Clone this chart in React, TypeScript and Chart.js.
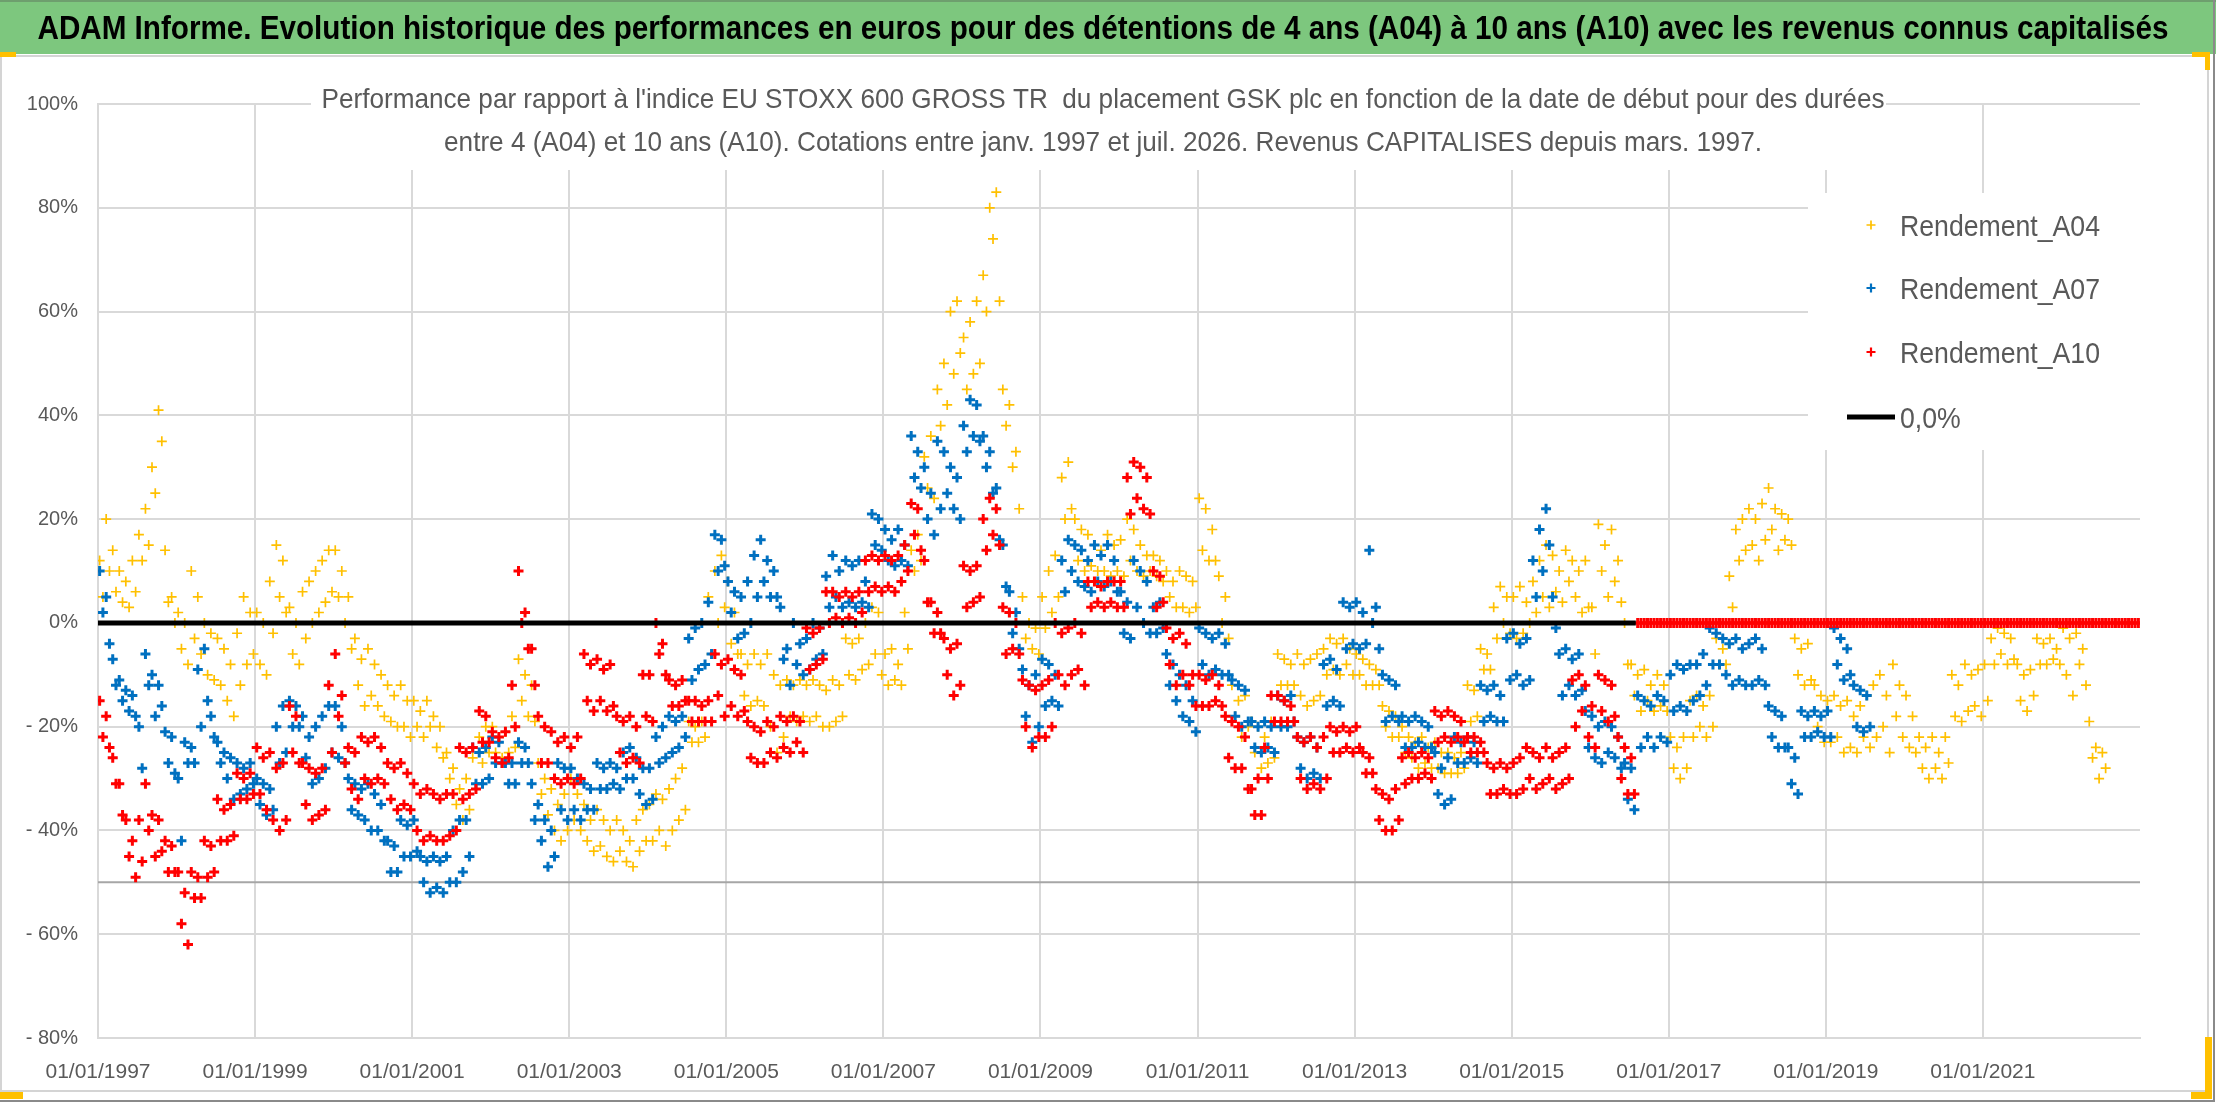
import React, { useEffect, useRef } from "react";
import { Chart, registerables } from "chart.js";

Chart.register(...registerables);

const CANVAS_W = 2216;
const CANVAS_H = 1102;

const titleText =
  "ADAM Informe. Evolution historique des performances en euros pour des détentions de 4 ans (A04) à 10 ans (A10) avec les revenus connus capitalisés";
const subtitleLines = [
  "Performance par rapport à l'indice EU STOXX 600 GROSS TR  du placement GSK plc en fonction de la date de début pour des durées",
  "entre 4 (A04) et 10 ans (A10). Cotations entre janv. 1997 et juil. 2026. Revenus CAPITALISES depuis mars. 1997.",
];

const seriesLabels = ["Rendement_A04", "Rendement_A07", "Rendement_A10"];
const seriesColors = ["#FFC000", "#0070C0", "#FF0000"];
const zeroLineLabel = "0,0%";

// x axis (start date, in years)
const axisStartYear = 1997;
const axisEndYear = 2023;
const tickStepYears = 2;
// first start date of every series and number of readings per year (two per month)
const firstDateYear = 1997;
const valuesPerYear = 24;
// y axis (%)
const yMin = -80;
const yMax = 100;
const yStep = 20;
// reference lines
const zeroLineEndYear = 2016.58;
const thresholdValue = -50;

// Rendement A04 (%), two readings per month from janv. 1997
const rendementA04 = [
  12, 5, 20, 10, 14, 6, 10, 4, 8, 3, 12, 6, 17, 12, 22, 15, 30, 25, 41, 35, 14, 4, 5, 0,
  2, -5, 0, -8, 10, -3, 5, -6, 0, -10, -2, -11, -3, -12, -5, -15, -8, -18, -2, -12, 5, -8, 2, -6,
  2, -8, 0, -10, 8, -2, 15, 5, 12, 2, 3, -6, 0, -8, 6, -3, 8, 0, 10, 2, 12, 4, 14, 6,
  14, 5, 10, 0, 5, -5, -3, -12, -7, -16, -5, -14, -8, -16, -10, -18, -12, -19, -14, -20, -12, -20, -15, -22,
  -15, -20, -17, -22, -15, -20, -18, -24, -20, -26, -25, -30, -28, -35, -32, -38, -30, -36, -26, -32, -22, -27, -20, -25,
  -20, -25, -22, -26, -21, -25, -18, -24, -7, -15, -10, -18, -12, -19, -27, -33, -30, -37, -32, -40, -35, -42, -33, -40,
  -30, -38, -33, -40, -35, -42, -38, -44, -36, -43, -38, -45, -40, -46, -38, -44, -40, -46, -42, -47, -38, -44, -36, -42,
  -35, -42, -33, -40, -34, -43, -32, -40, -30, -38, -28, -36, -19, -23, -20, -23, -19, -22, 5, -6, 10, 0, 13, 3,
  8, -4, 2, -6, -6, -14, -8, -16, -6, -15, -8, -16, -6, -20, -10, -25, -12, -22, -11, -18, -12, -19, -11, -18,
  -12, -19, -11, -18, -12, -20, -13, -20, -11, -19, -12, -18, -3, -10, -4, -11, -3, -9, 0, -8, 3, -6, 2, -10,
  -6, -12, -5, -11, -8, -12, 2, -5, 14, 10, 17, 12, 32, 26, 36, 24, 45, 38, 50, 42, 60, 48, 62, 52,
  55, 45, 58, 48, 62, 50, 67, 60, 80, 74, 83, 62, 45, 38, 42, 30, 33, 22, 5, -3, 0, -5, -1, -6,
  5, -1, 10, 2, 13, 5, 28, 20, 31, 22, 20, 12, 18, 10, 17, 11, 15, 10, 14, 10, 17, 9, 15, 10,
  16, 9, 20, 12, 18, 10, 15, 9, 13, 10, 13, 9, 12, 8, 10, 5, 8, 3, 10, 3, 9, 2, 8, 3,
  24, 14, 22, 12, 18, 12, 9, 0, 5, -3, -12, -18, -15, -22, -14, -20, -19, -25, -20, -28, -22, -27, -19, -26,
  -6, -12, -7, -12, -8, -12, -6, -14, -8, -16, -7, -15, -6, -14, -5, -10, -3, -9, -4, -10, -3, -8, -5, -10,
  -6, -10, -7, -12, -8, -12, -9, -12, -16, -20, -17, -22, -18, -22, -20, -25, -22, -26, -23, -28, -22, -27, -24, -28,
  -23, -28, -25, -29, -25, -29, -26, -29, -25, -28, -12, -19, -13, -18, -5, -9, -6, -9, 3, -3, 7, 0, 5, -2,
  5, -3, 7, -2, 4, 0, 8, 2, 12, 5, 15, 3, 13, 6, 10, 4, 14, 8, 12, 5, 10, 2, 12, 3,
  3, -6, 19, 10, 15, 5, 18, 8, 12, 4, 0, -8, -8, -14, -10, -17, -9, -15, -12, -17, -10, -16, -12, -17,
  -22, -28, -24, -30, -22, -28, -15, -22, -14, -20, -16, -22, -14, -20, -3, -8, -5, -8, 9, 3, 18, 12, 20, 14,
  22, 15, 20, 12, 23, 16, 26, 18, 22, 14, 21, 16, 20, 15, -3, -10, -5, -12, -4, -11, -12, -20, -14, -23,
  -15, -23, -14, -22, -16, -25, -15, -24, -18, -25, -16, -22, -14, -24, -12, -22, -10, -20, -14, -25, -8, -18, -12, -22,
  -14, -24, -18, -25, -22, -28, -24, -30, -22, -28, -25, -30, -22, -27, -10, -18, -12, -19, -8, -17, -10, -16, -9, -18,
  -8, -15, -3, -8, -1, -6, -2, -8, -3, -7, -8, -15, -10, -17, -9, -14, -3, -8, -4, -8, -3, -7, -5, -8,
  -1, -10, -3, -14, -2, -8, -5, -12, -19, -26, -24, -30, -25, -28,
];

// Rendement A07 (%), two readings per month from janv. 1997
const rendementA07 = [
  10, 2, 5, -4, -7, -12, -11, -15, -13, -17, -14, -18, -20, -28, -6, -12, -10, -18, -12, -16, -21, -27, -22, -29,
  -30, -42, -23, -27, -24, -27, -9, -20, -5, -15, -18, -22, -23, -27, -25, -30, -26, -34, -27, -33, -28, -32, -27, -31,
  -30, -35, -31, -37, -32, -36, -20, -27, -16, -25, -15, -20, -16, -20, -18, -26, -22, -31, -20, -30, -18, -28, -16, -25,
  -16, -26, -20, -27, -30, -36, -31, -37, -32, -38, -31, -40, -33, -40, -35, -42, -42, -48, -43, -48, -38, -45, -39, -45,
  -38, -44, -45, -50, -46, -52, -45, -51, -46, -52, -45, -50, -40, -50, -38, -48, -38, -45, -24, -31, -25, -31, -24, -30,
  -22, -27, -23, -27, -27, -31, -27, -31, -23, -27, -24, -27, -31, -38, -35, -42, -38, -47, -40, -45, -27, -36, -28, -38,
  -28, -36, -30, -38, -31, -36, -32, -36, -27, -32, -28, -32, -27, -31, -28, -32, -25, -30, -24, -30, -26, -33, -28, -35,
  -28, -34, -22, -27, -20, -26, -18, -25, -19, -24, -18, -22, -3, -11, -1, -9, 0, -8, 4, -6, 17, 10, 16, 11,
  8, 2, 6, -3, 5, -2, 8, 0, 13, 5, 16, 8, 12, 5, 10, 5, 3, -7, -5, -12, 0, -8, -4, -10,
  -3, -9, 0, -7, -1, -6, 9, 3, 13, 5, 10, 3, 12, 4, 11, 3, 12, 4, 8, 3, 21, 15, 20, 14,
  18, 12, 16, 11, 18, 12, 15, 11, 36, 28, 33, 26, 30, 20, 25, 17, 35, 22, 33, 25, 30, 22, 28, 20,
  38, 33, 43, 36, 42, 35, 36, 30, 33, 25, 26, 16, 15, 7, 6, -2, 2, -5, -9, -18, -12, -23, -10, -20,
  -7, -16, -8, -15, -10, -16, 12, 6, 16, 10, 15, 8, 14, 7, 12, 6, 15, 8, 13, 7, 15, 8, 12, 6,
  6, -2, 4, -3, 12, 3, 10, 0, 8, -2, 3, -2, 4, -1, -6, -12, -8, -15, -10, -18, -12, -19, -15, -21,
  -1, -8, -2, -10, -3, -9, -2, -10, -4, -10, -11, -18, -12, -20, -13, -19, -19, -24, -20, -25, -19, -24, -20, -25,
  -14, -20, -15, -20, -14, -19, -22, -28, -23, -30, -22, -29, -24, -30, -8, -16, -7, -15, -9, -16, 4, -5, 3, -4,
  4, -5, 2, -4, 14, 0, 3, -5, -10, -19, -11, -18, -12, -19, -18, -24, -19, -24, -18, -23, -19, -24, -20, -24,
  -25, -33, -28, -35, -26, -34, -22, -27, -23, -27, -22, -26, -23, -27, -12, -19, -13, -18, -12, -19, -14, -19, -3, -11,
  -2, -10, -4, -12, -3, -11, 12, 5, 18, 10, 22, 15, 5, -1, -6, -14, -5, -12, -7, -14, -6, -13, -17, -24,
  -18, -26, -20, -27, -19, -25, -20, -26, -22, -28, -27, -34, -28, -36, -14, -24, -15, -22, -16, -24, -14, -22, -15, -23,
  -10, -17, -8, -16, -9, -17, -8, -15, -8, -14, -6, -12, -1, -8, -2, -8, -3, -10, -4, -12, -3, -11, -5, -12,
  -4, -12, -3, -11, -5, -12, -16, -22, -17, -24, -18, -24, -24, -31, -26, -33, -17, -22, -18, -22, -17, -21, -18, -22,
  -17, -22, -1, -8, -3, -11, -5, -10, -12, -20, -13, -21, -14, -20,
];

// Rendement A10 (%), two readings per month from janv. 1997 (0 once no 10-year period is complete)
const rendementA10 = [
  -15, -22, -18, -24, -26, -31, -31, -37, -38, -45, -42, -49, -38, -46, -31, -40, -37, -45, -38, -44, -42, -48, -43, -48,
  -48, -58, -52, -62, -48, -53, -49, -53, -42, -49, -43, -48, -34, -42, -36, -42, -35, -41, -29, -34, -30, -34, -29, -33,
  -24, -33, -26, -36, -25, -38, -28, -40, -27, -38, -16, -25, -18, -27, -27, -35, -28, -38, -29, -37, -28, -36, -12, -25,
  -6, -18, -14, -27, -24, -32, -25, -34, -22, -30, -23, -31, -22, -30, -24, -31, -27, -34, -28, -36, -27, -35, -29, -36,
  -31, -40, -33, -42, -32, -41, -33, -42, -34, -42, -33, -41, -33, -40, -24, -34, -25, -33, -24, -32, -17, -23, -18, -23,
  -21, -26, -22, -27, -21, -26, -12, -20, 10, 0, 2, -5, -5, -12, -18, -27, -20, -27, -21, -30, -23, -31, -22, -30,
  -24, -31, -22, -30, -6, -15, -8, -17, -7, -15, -9, -17, -8, -16, -18, -25, -19, -27, -18, -26, -20, -27, -10, -18,
  -10, -19, 0, -6, -4, -10, -11, -16, -12, -16, -11, -15, -15, -19, -15, -19, -16, -19, -15, -19, -6, -14, -8, -18,
  -7, -16, -9, -18, -10, -17, -19, -26, -20, -27, -21, -27, -19, -25, -20, -26, -18, -24, -19, -25, -18, -23, -19, -25,
  -1, -9, -2, -8, -1, -7, 6, 0, 6, 1, 5, 0, 6, 1, 5, 0, 6, 2, 12, 6, 13, 7, 12, 6,
  13, 7, 12, 6, 13, 8, 15, 10, 23, 17, 22, 14, 12, 4, 4, -2, 2, -2, -3, -10, -5, -14, -4, -12,
  11, 3, 10, 4, 11, 5, 20, 14, 24, 17, 22, 15, 3, -6, 2, -5, 0, -6, -11, -20, -12, -24, -13, -22,
  -12, -22, -11, -20, 0, -10, -2, -12, -1, -10, 0, -9, -2, -12, 8, 3, 8, 4, 7, 3, 8, 4, 8, 3,
  8, 3, 28, 21, 31, 24, 30, 22, 28, 21, 10, 3, 9, 4, -1, -8, -3, -12, -2, -10, -4, -12, -10, -16,
  -10, -16, -11, -16, -10, -15, -12, -16, -18, -26, -19, -28, -20, -28, -22, -32, -32, -37, -30, -37, -24, -30, -14, -19,
  -14, -19, -15, -19, -16, -19, -22, -30, -23, -32, -22, -31, -24, -32, -22, -30, -20, -25, -21, -25, -20, -24, -21, -25,
  -20, -24, -25, -29, -26, -29, -32, -38, -33, -40, -34, -40, -32, -38, -26, -31, -25, -30, -26, -30, -25, -29, -26, -30,
  -17, -23, -18, -22, -17, -23, -18, -22, -19, -23, -22, -25, -22, -25, -23, -25, -27, -33, -28, -33, -27, -32, -28, -33,
  -27, -33, -26, -32, -24, -30, -25, -32, -26, -31, -24, -30, -26, -32, -25, -31, -24, -30, -11, -20, -10, -17, -12, -22,
  -16, -24, -10, -17, -11, -19, -12, -18, -22, -30, -24, -33, -26, -33, 0, 0, 0, 0, 0, 0, 0, 0, 0, 0,
  0, 0, 0, 0, 0, 0, 0, 0, 0, 0, 0, 0, 0, 0, 0, 0, 0, 0, 0, 0, 0, 0, 0, 0,
  0, 0, 0, 0, 0, 0, 0, 0, 0, 0, 0, 0, 0, 0, 0, 0, 0, 0, 0, 0, 0, 0, 0, 0,
  0, 0, 0, 0, 0, 0, 0, 0, 0, 0, 0, 0, 0, 0, 0, 0, 0, 0, 0, 0, 0, 0, 0, 0,
  0, 0, 0, 0, 0, 0, 0, 0, 0, 0, 0, 0, 0, 0, 0, 0, 0, 0, 0, 0, 0, 0, 0, 0,
  0, 0, 0, 0, 0, 0, 0, 0, 0, 0, 0, 0, 0, 0, 0, 0, 0, 0, 0, 0, 0, 0, 0, 0,
  0, 0, 0, 0, 0, 0, 0, 0, 0, 0, 0, 0, 0, 0, 0, 0, 0, 0, 0, 0, 0, 0, 0, 0,
];

const toPoints = (values: number[]) =>
  values.map((v, i) => ({ x: firstDateYear + (i + 0.5) / valuesPerYear, y: v }));

const SANS = "'Liberation Sans', Arial, sans-serif";
const TEXT_GREY = "#595959";
const GRID_GREY = "#D9D9D9";

// draws text with a given font size, squeezed horizontally to a target width (condensed look)
function drawCondensed(
  ctx: CanvasRenderingContext2D,
  text: string,
  font: string,
  x: number,
  y: number,
  targetWidth: number,
  align: "left" | "center"
) {
  ctx.save();
  ctx.font = font;
  const w = ctx.measureText(text).width;
  const sx = targetWidth / w;
  ctx.textAlign = "left";
  ctx.textBaseline = "alphabetic";
  const left = align === "center" ? x - targetWidth / 2 : x;
  ctx.translate(left, y);
  ctx.scale(sx, 1);
  ctx.fillText(text, 0, 0);
  ctx.restore();
  return sx;
}

const decorPlugin = {
  id: "decor",
  beforeDraw(chart: any) {
    const ctx: CanvasRenderingContext2D = chart.ctx;
    ctx.save();
    ctx.fillStyle = "#FFFFFF";
    ctx.fillRect(0, 0, CANVAS_W, CANVAS_H);
    // green header band
    ctx.fillStyle = "#7DC77E";
    ctx.fillRect(0, 0, CANVAS_W, 54);
    ctx.strokeStyle = "#6E9F6E";
    ctx.lineWidth = 2;
    ctx.beginPath();
    ctx.moveTo(0, 1);
    ctx.lineTo(CANVAS_W, 1);
    ctx.stroke();
    // inner frame of the chart
    ctx.strokeStyle = "#D4D4D4";
    ctx.lineWidth = 2;
    ctx.strokeRect(1, 56, 2207, 1035);
    // outer border
    ctx.strokeStyle = "#8A8A8A";
    ctx.lineWidth = 2;
    ctx.beginPath();
    ctx.moveTo(CANVAS_W - 2, 0);
    ctx.lineTo(CANVAS_W - 2, CANVAS_H - 1);
    ctx.lineTo(0, CANVAS_H - 1);
    ctx.stroke();
    ctx.restore();
  },
  afterDraw(chart: any) {
    const ctx: CanvasRenderingContext2D = chart.ctx;
    ctx.save();
    // title in the green band
    ctx.fillStyle = "#000000";
    drawCondensed(ctx, titleText, `bold 33px ${SANS}`, 1103, 39, 2131, "center");

    // subtitle box
    ctx.fillStyle = "#FFFFFF";
    ctx.fillRect(311, 84, 1575, 86);
    ctx.fillStyle = TEXT_GREY;
    ctx.save();
    ctx.font = `normal 28px ${SANS}`;
    const w0 = ctx.measureText(subtitleLines[0]).width;
    const w1 = ctx.measureText(subtitleLines[1]).width;
    ctx.restore();
    const sx = 1563 / w0;
    drawCondensed(ctx, subtitleLines[0], `normal 28px ${SANS}`, 1103, 108, w0 * sx, "center");
    drawCondensed(ctx, subtitleLines[1], `normal 28px ${SANS}`, 1103, 151, w1 * sx, "center");

    // legend
    ctx.fillStyle = "#FFFFFF";
    ctx.fillRect(1808, 193, 332, 257);
    const rows = [225, 288, 352, 417];
    const ds = chart.data.datasets;
    for (let i = 0; i < 3; i++) {
      const d = ds[i];
      const cx = 1871;
      const cy = rows[i];
      const r = 4.5;
      ctx.strokeStyle = d.pointBorderColor;
      ctx.lineWidth = Math.min(d.pointBorderWidth, 2.2);
      ctx.beginPath();
      ctx.moveTo(cx - r, cy);
      ctx.lineTo(cx + r, cy);
      ctx.moveTo(cx, cy - r);
      ctx.lineTo(cx, cy + r);
      ctx.stroke();
    }
    ctx.strokeStyle = ds[3].borderColor;
    ctx.lineWidth = ds[3].borderWidth;
    ctx.beginPath();
    ctx.moveTo(1847, rows[3]);
    ctx.lineTo(1895, rows[3]);
    ctx.stroke();
    ctx.fillStyle = TEXT_GREY;
    ctx.save();
    ctx.font = `normal 30px ${SANS}`;
    const lw = ctx.measureText(seriesLabels[0]).width;
    ctx.restore();
    const lsx = 200 / lw;
    for (let i = 0; i < 4; i++) {
      ctx.save();
      ctx.font = `normal 30px ${SANS}`;
      const w = ctx.measureText(ds[i].label).width;
      ctx.restore();
      drawCondensed(ctx, ds[i].label, `normal 30px ${SANS}`, 1900, rows[i] + 11, w * lsx, "left");
    }

    // selection handles
    ctx.fillStyle = "#FFC000";
    ctx.fillRect(0, 52, 16, 5);
    ctx.fillRect(2192, 52, 18, 5);
    ctx.fillRect(2205, 52, 5, 18);
    ctx.fillRect(0, 1092, 23, 7);
    ctx.fillRect(2191, 1092, 21, 7);
    ctx.fillRect(2205, 1037, 7, 62);
    ctx.restore();
  },
};

export default function App() {
  const ref = useRef<HTMLCanvasElement>(null);

  useEffect(() => {
    const canvas = ref.current;
    if (!canvas) return;
    const markerSets = [rendementA04, rendementA07, rendementA10];
    const markerWidths = [1.7, 3, 3];
    const markerOrder = [3, 2, 1];
    const datasets: any[] = markerSets.map((vals, i) => ({
      label: seriesLabels[i],
      data: toPoints(vals),
      pointStyle: "cross",
      pointRadius: 5,
      pointBorderWidth: markerWidths[i],
      pointBorderColor: seriesColors[i],
      pointBackgroundColor: seriesColors[i],
      borderColor: seriesColors[i],
      backgroundColor: seriesColors[i],
      showLine: false,
      order: markerOrder[i],
    }));
    datasets.push({
      label: zeroLineLabel,
      data: [
        { x: firstDateYear, y: 0 },
        { x: zeroLineEndYear, y: 0 },
      ],
      showLine: true,
      borderColor: "#000000",
      borderWidth: 5,
      pointRadius: 0,
      order: 0,
    });
    datasets.push({
      label: "seuil",
      data: [
        { x: axisStartYear, y: thresholdValue },
        { x: axisEndYear, y: thresholdValue },
      ],
      showLine: true,
      borderColor: "#A6A6A6",
      borderWidth: 2,
      pointRadius: 0,
      order: 4,
    });

    const chart = new Chart(canvas, {
      type: "scatter",
      data: { datasets },
      options: {
        animation: false,
        responsive: false,
        events: [],
        layout: { padding: { top: 104, right: 76, bottom: 0, left: 0 } },
        plugins: {
          legend: { display: false },
          tooltip: { enabled: false },
          title: { display: false },
        },
        scales: {
          x: {
            type: "linear",
            min: axisStartYear,
            max: axisEndYear,
            afterFit: (s: any) => {
              s.height = 64;
            },
            ticks: {
              stepSize: tickStepYears,
              autoSkip: false,
              maxRotation: 0,
              minRotation: 0,
              padding: 22,
              color: TEXT_GREY,
              font: { family: SANS, size: 21 },
              callback: (v: any) => {
                const y = Math.round(Number(v));
                return y >= axisEndYear ? "" : `01/01/${y}`;
              },
            },
            grid: {
              color: (c: any) => (c.tick && Math.round(c.tick.value) >= axisEndYear ? "rgba(0,0,0,0)" : GRID_GREY),
              lineWidth: 2,
              drawTicks: false,
            },
            border: { color: GRID_GREY, width: 2 },
          },
          y: {
            min: yMin,
            max: yMax,
            afterFit: (s: any) => {
              s.width = 98;
            },
            ticks: {
              stepSize: yStep,
              padding: 20,
              color: TEXT_GREY,
              font: { family: SANS, size: 20 },
              callback: (v: any) => {
                const n = Math.round(Number(v));
                return n < 0 ? `- ${-n}%` : `${n}%`;
              },
            },
            grid: { color: GRID_GREY, lineWidth: 2, drawTicks: false },
            border: { color: GRID_GREY, width: 2 },
          },
        },
      },
      plugins: [decorPlugin],
    } as any);
    return () => chart.destroy();
  }, []);

  return (
    <div style={{ position: "fixed", left: 0, top: 0, width: CANVAS_W, height: CANVAS_H, background: "#fff" }}>
      <canvas
        ref={ref}
        width={CANVAS_W}
        height={CANVAS_H}
        style={{ display: "block", width: CANVAS_W, height: CANVAS_H }}
      />
    </div>
  );
}
